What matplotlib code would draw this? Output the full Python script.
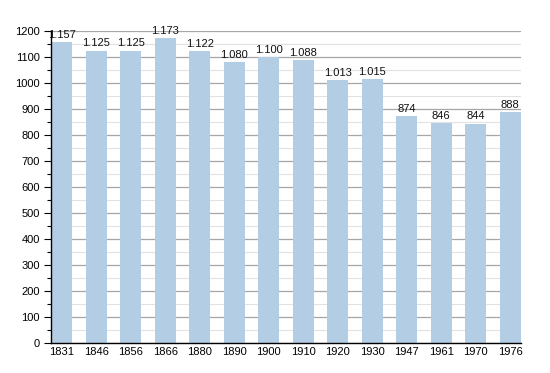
import matplotlib
matplotlib.use("Agg")
import matplotlib.pyplot as plt
import numpy as np

years = ["1831", "1846", "1856", "1866", "1880", "1890", "1900",
         "1910", "1920", "1930", "1947", "1961", "1970", "1976"]
population = [1157, 1125, 1125, 1173, 1122, 1080, 1100,
              1088, 1013, 1015, 874, 846, 844, 888]

plt.rcParams['font.family'] = ['Liberation Sans', 'DejaVu Sans']

fig = plt.figure(figsize=(5.5, 3.73), dpi=100)
ax = fig.add_axes([51/550, 1 - 343/373, 470/550, 312/373])

x = np.arange(len(years))
ax.bar(x, population, width=0.61, color='#b3cde4', zorder=2)

for xi, v in zip(x, population):
    # thousand separator as a dot
    lbl = f"{v:,}".replace(",", ".")
    ax.annotate(lbl, (xi, v), xytext=(0, 1.5), textcoords='offset points',
                ha='center', va='bottom', fontsize=8, color='#111111')

ax.set_xlim(-0.31, len(years) - 1 + 0.31)
ax.set_ylim(0, 1200)
ax.set_xticks(x)
ax.set_xticklabels(years)
ax.set_yticks(np.arange(0, 1201, 100))
ax.set_yticks(np.arange(50, 1200, 100), minor=True)

ax.grid(axis='y', which='major', color='#a6a6a6', linewidth=0.9, zorder=0)
ax.grid(axis='y', which='minor', color='#e2e2e2', linewidth=0.8, zorder=0)
ax.set_axisbelow(True)

for s in ['top', 'right']:
    ax.spines[s].set_visible(False)
ax.spines['left'].set_color('black')
ax.spines['bottom'].set_color('black')
ax.spines['left'].set_linewidth(1.0)
ax.spines['bottom'].set_linewidth(1.0)

ax.tick_params(axis='y', which='major', length=5, width=0.8, labelsize=8, pad=3)
ax.tick_params(axis='y', which='minor', length=3, width=0.8)
ax.tick_params(axis='x', length=0, labelsize=8, pad=3)

fig.savefig("out.png", dpi=100)
